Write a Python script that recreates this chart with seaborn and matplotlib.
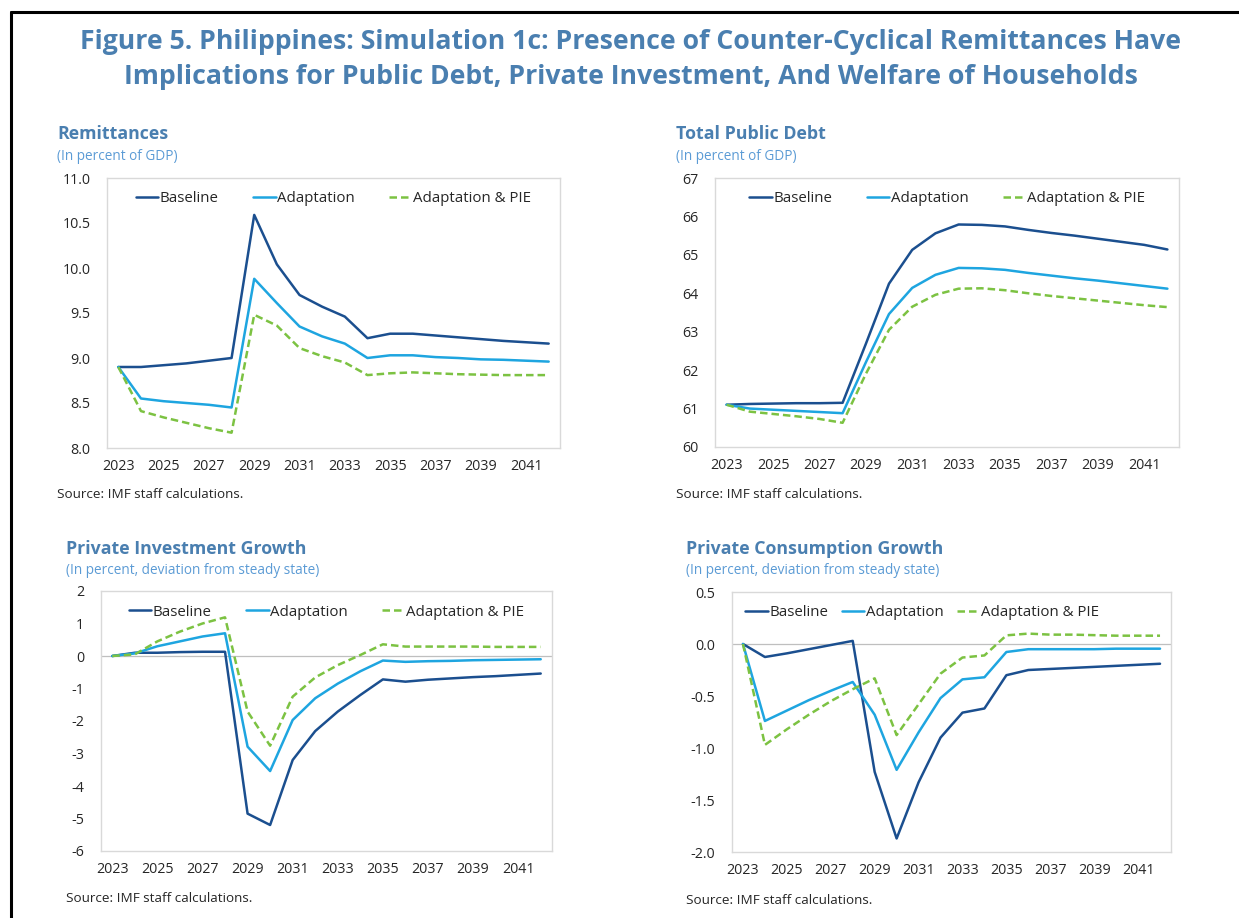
import matplotlib
matplotlib.use('Agg')
import matplotlib.pyplot as plt
import pandas as pd
import seaborn as sns
from matplotlib.lines import Line2D

years = list(range(2023, 2043))
series_names = ['Baseline', 'Adaptation', 'Adaptation & PIE']

# Remittances (in percent of GDP)
remit_base = [8.90, 8.90, 8.92, 8.94, 8.97, 9.00, 10.59, 10.04, 9.70, 9.57,
              9.46, 9.22, 9.27, 9.27, 9.25, 9.23, 9.21, 9.19, 9.175, 9.16]
remit_adapt = [8.90, 8.55, 8.52, 8.50, 8.48, 8.45, 9.88, 9.61, 9.35, 9.24,
               9.16, 9.00, 9.03, 9.03, 9.01, 9.00, 8.985, 8.98, 8.97, 8.96]
remit_pie = [8.90, 8.41, 8.34, 8.28, 8.22, 8.17, 9.48, 9.36, 9.11, 9.02,
             8.95, 8.81, 8.83, 8.84, 8.83, 8.82, 8.815, 8.81, 8.81, 8.81]

# Total public debt (in percent of GDP)
debt_base = [61.10, 61.12, 61.13, 61.14, 61.14, 61.15, 62.68, 64.25, 65.13, 65.56,
             65.79, 65.78, 65.74, 65.65, 65.57, 65.50, 65.42, 65.34, 65.26, 65.14]
debt_adapt = [61.10, 61.00, 60.97, 60.94, 60.91, 60.88, 62.20, 63.46, 64.14, 64.48,
              64.66, 64.65, 64.61, 64.53, 64.46, 64.39, 64.33, 64.26, 64.19, 64.12]
debt_pie = [61.10, 60.92, 60.86, 60.80, 60.73, 60.63, 61.90, 63.05, 63.65, 63.96,
            64.12, 64.13, 64.08, 64.00, 63.93, 63.87, 63.81, 63.75, 63.69, 63.64]

# Private investment growth (deviation from steady state)
inv_base = [0.0, 0.10, 0.10, 0.12, 0.13, 0.13, -4.85, -5.20, -3.20, -2.31,
            -1.71, -1.20, -0.72, -0.79, -0.73, -0.69, -0.65, -0.62, -0.58, -0.54]
inv_adapt = [0.0, 0.08, 0.30, 0.45, 0.60, 0.70, -2.79, -3.54, -1.97, -1.30,
             -0.85, -0.47, -0.14, -0.18, -0.16, -0.15, -0.13, -0.12, -0.11, -0.10]
inv_pie = [0.0, 0.05, 0.45, 0.75, 1.00, 1.19, -1.71, -2.76, -1.25, -0.66,
           -0.28, 0.03, 0.36, 0.29, 0.29, 0.29, 0.29, 0.28, 0.28, 0.28]

# Private consumption growth (deviation from steady state)
cons_base = [0.0, -0.125, -0.09, -0.05, -0.01, 0.03, -1.23, -1.87, -1.33, -0.90,
             -0.66, -0.62, -0.30, -0.25, -0.24, -0.23, -0.22, -0.21, -0.20, -0.19]
cons_adapt = [0.0, -0.74, -0.64, -0.54, -0.45, -0.365, -0.68, -1.21, -0.85, -0.52,
              -0.34, -0.32, -0.077, -0.05, -0.05, -0.05, -0.05, -0.045, -0.045, -0.045]
cons_pie = [0.0, -0.97, -0.82, -0.68, -0.55, -0.435, -0.33, -0.876, -0.58, -0.285,
            -0.13, -0.11, 0.083, 0.10, 0.09, 0.09, 0.085, 0.08, 0.08, 0.08]

xtick_years = list(range(2023, 2042, 2))

sns.set_theme(style='white')
plt.rcParams['font.family'] = ['Open Sans', 'DejaVu Sans']

palette = {'Baseline': '#1b4f8f', 'Adaptation': '#1ea5e0',
           'Adaptation & PIE': '#7cc242'}
dashes = {'Baseline': '', 'Adaptation': '', 'Adaptation & PIE': (3, 1.6)}
title_color = '#4a7fb0'
sub_color = '#5b9bd5'
W, H = 1239, 918


def long_df(base, adapt, pie):
    frames = []
    for name, vals in zip(series_names, [base, adapt, pie]):
        frames.append(pd.DataFrame({'year': years, 'value': vals, 'series': name}))
    return pd.concat(frames, ignore_index=True)


def draw_panel(fig, rect, df, ylim, yticks, fmt, title, subtitle, text_x,
               title_y, source_y, colspacing, zero_line=False):
    ax = fig.add_axes(rect)
    if zero_line:
        ax.axhline(0, color='#bfbfbf', lw=0.9, zorder=0)
    sns.lineplot(data=df, x='year', y='value', hue='series', style='series',
                 palette=palette, dashes=dashes, linewidth=1.8, ax=ax)
    ax.set_xlim(2022.5, 2042.5)
    ax.set_ylim(*ylim)
    ax.set_yticks(yticks)
    ax.set_yticklabels([fmt.format(v) for v in yticks])
    ax.set_xticks(xtick_years)
    ax.set_xticklabels([str(y) for y in xtick_years])
    ax.set_xlabel('')
    ax.set_ylabel('')
    ax.tick_params(axis='both', labelsize=10.3, colors='#262626', length=0)
    ax.tick_params(axis='x', pad=8)
    ax.tick_params(axis='y', pad=12)
    for s in ax.spines.values():
        s.set_color('#d9d9d9')
        s.set_linewidth(1.0)
    handles, labels = ax.get_legend_handles_labels()
    ax.legend(handles, labels, loc='upper center', bbox_to_anchor=(0.5, 1.0),
              ncol=3, frameon=False, fontsize=10.8, handlelength=1.5,
              handletextpad=0.1, columnspacing=colspacing)
    fig.text(text_x / W, 1 - title_y / H, title, fontsize=12.8,
             fontweight='bold', color=title_color, va='center', ha='left')
    fig.text(text_x / W, 1 - (title_y + 22) / H, subtitle, fontsize=9.8,
             color=sub_color, va='center', ha='left')
    fig.text(text_x / W, 1 - source_y / H, 'Source: IMF staff calculations.',
             fontsize=9.7, color='#262626', va='center', ha='left')
    return ax


fig = plt.figure(figsize=(W / 100, H / 100), dpi=100)

fig.text(631 / W, 1 - 42 / H,
         'Figure 5. Philippines: Simulation 1c: Presence of Counter-Cyclical Remittances Have',
         fontsize=19.2, fontweight='bold', color=title_color, ha='center', va='center')
fig.text(631 / W, 1 - 77 / H,
         'Implications for Public Debt, Private Investment, And Welfare of Households',
         fontsize=19.2, fontweight='bold', color=title_color, ha='center', va='center')

draw_panel(fig, [107 / W, 1 - 448 / H, 453 / W, 270 / H],
           long_df(remit_base, remit_adapt, remit_pie),
           (8.0, 11.0), [8.0, 8.5, 9.0, 9.5, 10.0, 10.5, 11.0], '{:.1f}',
           'Remittances', '(In percent of GDP)', 57, 134, 495, 2.3)

draw_panel(fig, [715 / W, 1 - 447 / H, 464 / W, 269 / H],
           long_df(debt_base, debt_adapt, debt_pie),
           (60, 67), list(range(60, 68)), '{:.0f}',
           'Total Public Debt', '(In percent of GDP)', 676, 134, 495, 2.3)

draw_panel(fig, [101 / W, 1 - 851 / H, 451 / W, 260 / H],
           long_df(inv_base, inv_adapt, inv_pie),
           (-6, 2), list(range(-6, 3)), '{:.0f}',
           'Private Investment Growth', '(In percent, deviation from steady state)',
           66, 549, 898, 2.3, zero_line=True)

ax4 = draw_panel(fig, [732 / W, 1 - 852 / H, 439 / W, 260 / H],
                 long_df(cons_base, cons_adapt, cons_pie),
                 (-2.0, 0.5), [-2.0, -1.5, -1.0, -0.5, 0.0, 0.5], '{:.1f}',
                 'Private Consumption Growth', '(In percent, deviation from steady state)',
                 686, 549, 900, 0.9, zero_line=True)
leg4 = ax4.get_legend()
leg4.set_loc('upper left')
leg4.set_bbox_to_anchor((0.0, 1.0))

# page frame (top and left edges)
fig.add_artist(Line2D([11 / W, 11 / W], [0, 1 - 12 / H], color='black', lw=2.2,
                      transform=fig.transFigure))
fig.add_artist(Line2D([11 / W, 1], [1 - 12 / H, 1 - 12 / H], color='black', lw=2.2,
                      transform=fig.transFigure))

fig.savefig('out.png', dpi=100)
